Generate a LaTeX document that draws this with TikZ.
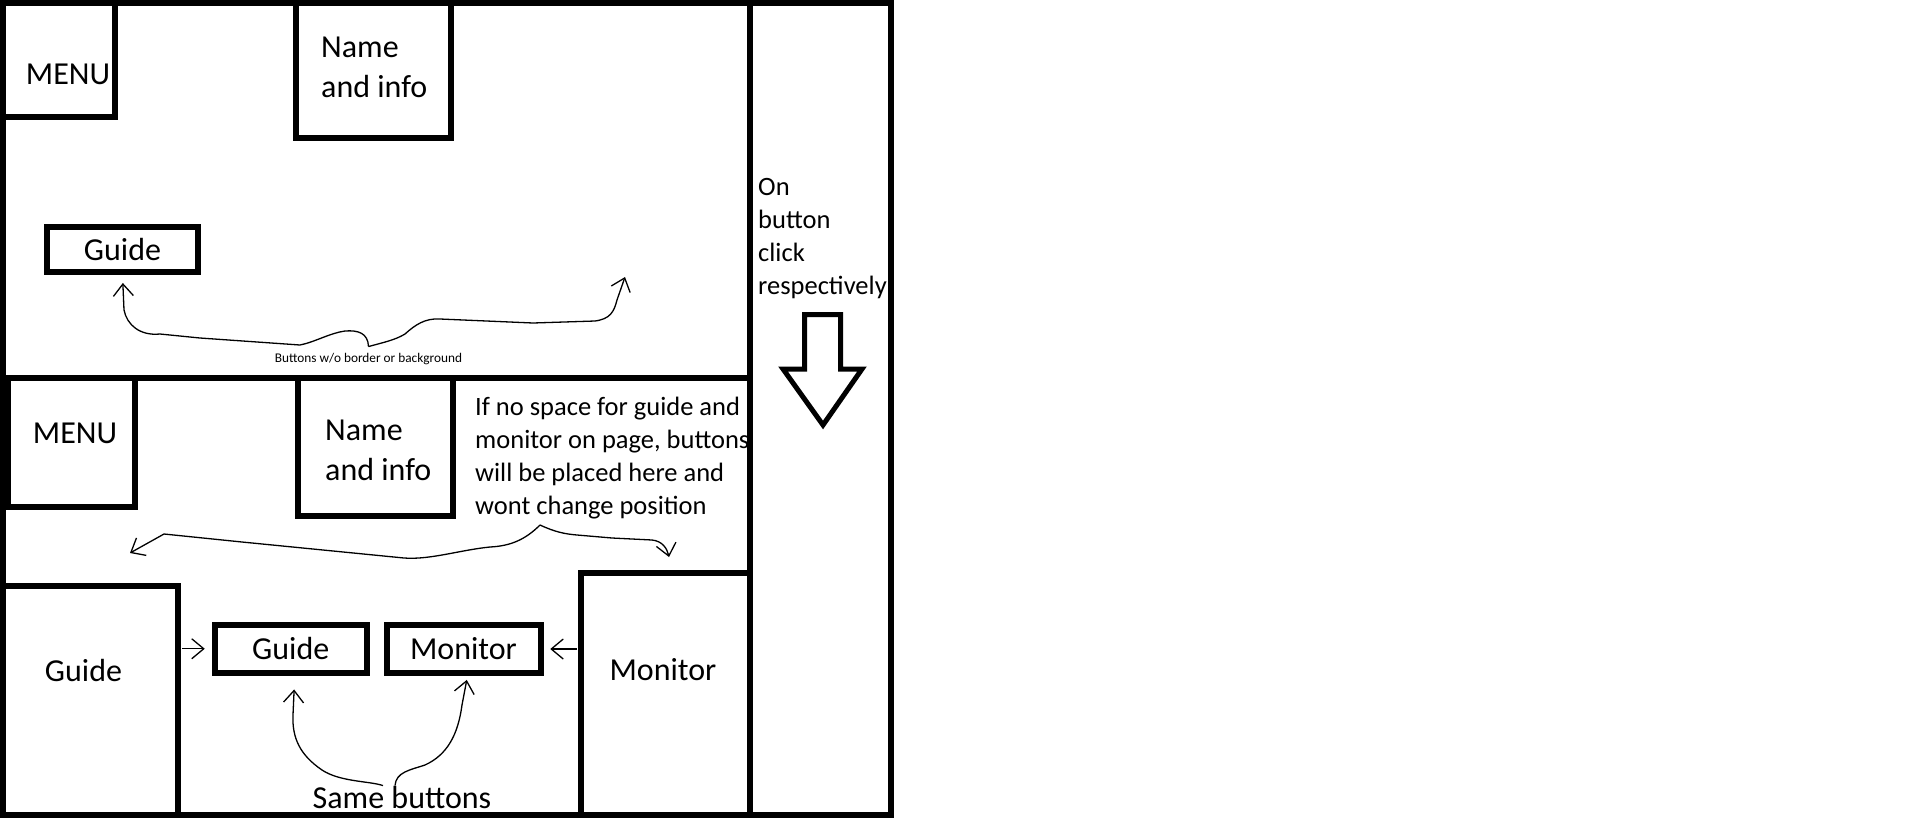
\documentclass[tikz,border=0pt]{standalone}
\usepackage{fontspec}
\setmainfont{Carlito}
\usetikzlibrary{positioning,arrows.meta}
\newcommand{\boxfont}{\fontsize{32}{40}\selectfont}
\newcommand{\notefont}{\fontsize{26.5}{32.8}\selectfont}
\newcommand{\tinynote}{\fontsize{13.3}{16}\selectfont}

\begin{document}
\begin{tikzpicture}[x=1pt, y=-1pt,
  frame/.style={line width=6pt},
  box/.style={draw, line width=6pt, inner sep=0pt, font=\boxfont},
  txt/.style={inner sep=0pt, font=\boxfont},
  note/.style={inner sep=0pt, font=\notefont, align=left},
  hand/.style={line width=1.3pt, -{Straight Barb[length=12pt,width=20pt]}}]
\useasboundingbox (0,0) rectangle (1910,817);

% frame of both pages
\draw[frame] (3,3) rectangle (890.5,814.5);
\draw[frame] (749.5,0) -- (749.5,817);
\draw[frame] (0,378) -- (749.5,378);

% upper page
\node[box, minimum width=111.5pt, minimum height=114pt] (menuA) at (58.75,60) {};
\node[txt, anchor=base] (menuAtxt) at (68,84) {MENU};
\node[box, minimum width=154.5pt, minimum height=134.5pt] (nameA) at (373.25,70.25) {};
\node[txt, align=left, anchor=base west] (nameAtxt) at (321,97) {Name\\and info};
\node[box, minimum width=151pt, minimum height=45pt] (guideA) at (122.5,249.5) {Guide};
\node[inner sep=2pt, font=\tinynote, anchor=base] (btnnote) at (368.5,362) {Buttons w/o border or background};
\coordinate (slotA) at (625,277);

\draw[hand, shorten >=8pt] ([yshift=4pt]btnnote.north) .. controls (368,333) and (358,330) .. (345,331)
  .. controls (330,333) and (315,342) .. (300,345) -- (200,338) -- (160,334)
  .. controls (140,336) and (127,325) .. (124,310) -- (guideA.south);
\draw[hand] ([yshift=4pt]btnnote.north) .. controls (385,342) and (395,340) .. (405,334)
  .. controls (415,325) and (425,318) .. (440,319) -- (533,323) -- (595,321)
  .. controls (610,319) and (614,312) .. (617,300) -- (slotA);

% right column
\node[note, anchor=base west] (clicknote) at (758,294) {On\\button\\click\\respectively};
\draw[line width=5pt, line join=miter] (804.5,314.5) -- (840.5,314.5) -- (840.5,369) -- (862,369)
  -- (823,425) -- (783,369) -- (804.5,369) -- cycle;

% lower page
\node[box, minimum width=127pt, minimum height=128.5pt] (menuB) at (71.5,442.25) {};
\node[txt, anchor=base] (menuBtxt) at (75,443) {MENU};
\node[box, minimum width=155pt, minimum height=138pt] (nameB) at (375.5,447) {};
\node[txt, align=left, anchor=base west] (nameBtxt) at (325,480) {Name\\and info};
\begin{scope}
\clip (0,378) rectangle (746,817);
\node[note, anchor=base west] (fallback) at (475,514) {If no space for guide and\\monitor on page, buttons\\will be placed here and\\wont change position};
\end{scope}
\coordinate (peak) at (540,525);
\coordinate (slotL) at (130,553);
\coordinate (slotR) at (669,557);

\draw[hand] (peak) .. controls (525,540) and (510,546) .. (490,547)
  .. controls (460,550) and (430,560) .. (404,558) -- (242,542) -- (164,534) -- (slotL);
\draw[hand] (peak) .. controls (555,532) and (565,534) .. (577,535) -- (612,538) -- (652,540)
  .. controls (662,541) and (667,548) .. (slotR);

\node[box, minimum width=174.5pt, minimum height=228.5pt] (guideT) at (90.25,700.25) {};
\node[txt, anchor=base] (guideTtxt) at (83.5,681) {Guide};
\node[box, minimum width=169pt, minimum height=242pt] (monT) at (665,693.5) {};
\node[txt, anchor=base] (monTtxt) at (663,680) {Monitor};
\node[box, minimum width=152.5pt, minimum height=47.5pt] (guideS) at (290.75,648.75) {Guide};
\node[box, minimum width=154pt, minimum height=48pt] (monS) at (463.5,649) {Monitor};
\node[txt, anchor=base] (samebtn) at (402,808) {Same buttons};

\draw[hand, shorten >=6.75pt, shorten <=1.75pt] (guideT.east |- guideS.west) -- (guideS.west);
\draw[hand, shorten >=6.75pt, shorten <=0.5pt] (monT.west |- monS.east) -- (monS.east);
\draw[hand, shorten >=14pt] ([xshift=-19pt]samebtn.north) .. controls (370,781) and (340,782) .. (322,770)
  .. controls (300,755) and (292,738) .. (293,715) -- ([xshift=4pt]guideS.south);
\draw[hand, shorten >=4pt] ([xshift=-7pt]samebtn.north) .. controls (396,772) and (410,770) .. (425,765)
  .. controls (447,755) and (458,735) .. (462,705) -- ([xshift=4pt]monS.south);
\end{tikzpicture}
\end{document}
